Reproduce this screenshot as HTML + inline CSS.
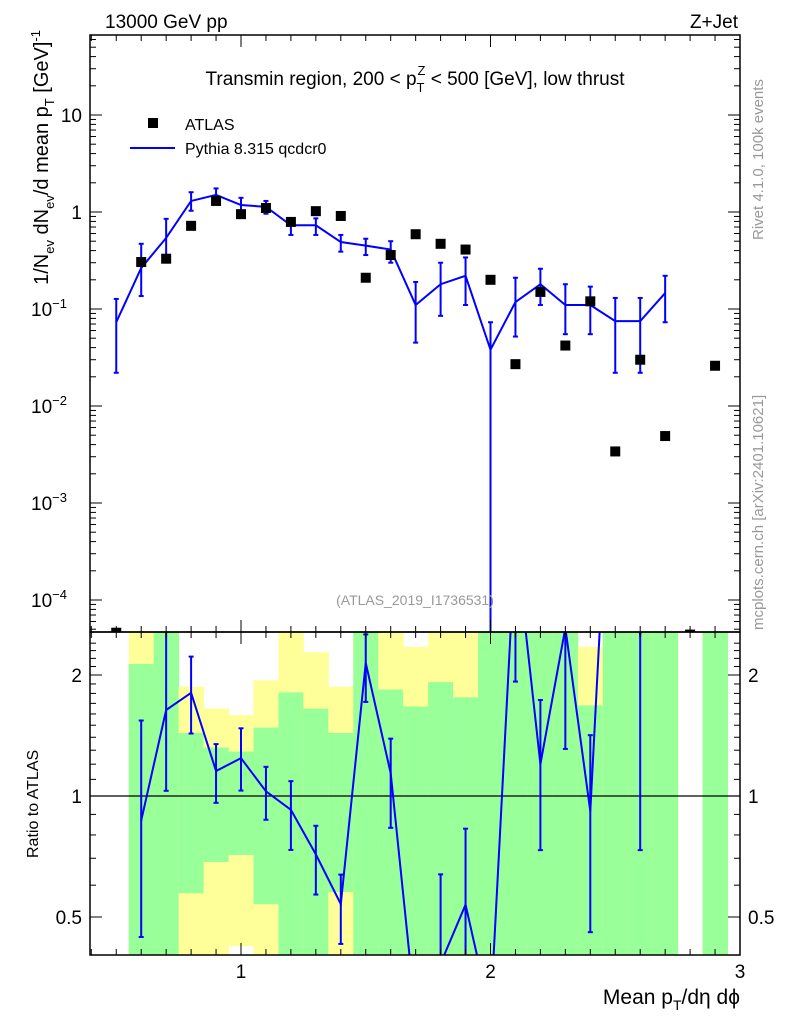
<!DOCTYPE html>
<html><head><meta charset="utf-8"><style>
html,body{margin:0;padding:0;background:#fff;overflow:hidden;width:786px;height:1024px;}
svg{font-family:"Liberation Sans",sans-serif;display:block;overflow:hidden;}
</style></head><body>
<svg id="c" width="786" height="1024" xmlns="http://www.w3.org/2000/svg"></svg>
<script>
const xCenters=[0.5,0.6,0.7,0.8,0.9,1.0,1.1,1.2,1.3,1.4,1.5,1.6,1.7,1.8,1.9,2.0,2.1,2.2,2.3,2.4,2.5,2.6,2.7,2.8,2.9];
const atlasVals=[4.6e-5,0.305,0.33,0.72,1.3,0.95,1.1,0.79,1.02,0.91,0.21,0.36,0.59,0.47,0.41,0.20,0.027,0.15,0.042,0.12,0.0034,0.030,0.0049,4.4e-5,0.026];
const pyVals=[0.073,0.265,0.54,1.3,1.5,1.18,1.13,0.73,0.73,0.49,0.45,0.41,0.11,0.18,0.22,0.038,0.118,0.18,0.11,0.11,0.075,0.075,0.146];
const pyHi=[0.127,0.47,0.85,1.6,1.75,1.4,1.3,0.86,0.86,0.58,0.53,0.5,0.19,0.30,0.34,0.073,0.21,0.26,0.18,0.17,0.13,0.13,0.22];
const pyLo=[0.022,0.136,0.34,1.03,1.25,0.98,0.96,0.58,0.58,0.39,0.36,0.30,0.045,0.085,0.11,1e-6,0.052,0.11,0.055,0.055,0.022,0.022,0.073];
const greenHi=[null,2.13,3,1.435,1.32,1.29,1.48,1.81,1.65,1.435,3,1.84,1.67,1.92,1.76,3,3,3,3,1.68,3,3,3,null,3];
const greenLo=[null,0.3,0.3,0.573,0.685,0.713,0.538,0.3,0.3,0.577,0.3,0.3,0.3,0.3,0.3,0.3,0.3,0.3,0.3,0.3,0.3,0.3,0.3,null,0.3];
const yellowHi=[null,3,3,1.87,1.65,1.59,1.94,3,2.28,1.87,3,3,2.35,3,3,3,3,3,3,2.35,3,3,3,null,3];
const yellowLo=[null,0.3,0.3,0.3,0.3,0.423,0.3,0.3,0.3,0.3,0.3,0.3,0.3,0.3,0.3,0.3,0.3,0.3,0.3,0.3,0.3,0.3,0.3,null,0.3];
const mainTicks=[10,1,0.1,0.01,0.001,0.0001];
const ratioTicks=[2,1,0.5];
const xTicks=[1,2,3];

const NS="http://www.w3.org/2000/svg";
const svg=document.getElementById('c');
const L=90,R=740,MT=35,MB=632,RB=955;
const clamp=(v,a,b)=>Math.max(a,Math.min(b,v));
const X=v=>241+(v-1)*249.5;
const Y=v=>clamp(212-Math.log10(v)*97,MT-30,MB+300);
const RY=v=>clamp(796-Math.log2(v)*121,MB-300,RB+60);
function el(t,a,p){const e=document.createElementNS(NS,t);for(const k in a)e.setAttribute(k,a[k]);(p||svg).appendChild(e);return e;}
const defs=el('defs',{});
const c1=el('clipPath',{id:'cm'},defs);el('rect',{x:L,y:MT,width:R-L,height:MB-MT},c1);
const c2=el('clipPath',{id:'cr'},defs);el('rect',{x:L,y:MB,width:R-L,height:RB-MB},c2);

const gB=el('g',{'clip-path':'url(#cr)'});


xCenters.forEach((x,i)=>{
  if(yellowHi[i]==null)return;
  const x0=X(x-0.05),x1=X(x+0.05);
  const y1=el('rect',{x:x0,y:RY(yellowHi[i]),width:x1-x0+0.5,height:RY(yellowLo[i])-RY(yellowHi[i]),fill:'#ffff99'},gB);
  
  
  const g1=el('rect',{x:x0,y:RY(greenHi[i]),width:x1-x0+0.5,height:RY(greenLo[i])-RY(greenHi[i]),fill:'#99ff99'},gB);
  
  
});
el('line',{x1:L,x2:R,y1:RY(1),y2:RY(1),stroke:'#000','stroke-width':1.2});

const gM=el('g',{'clip-path':'url(#cm)'});
let pts=pyVals.map((v,i)=>X(xCenters[i])+','+Y(v)).join(' ');
const pl=el('polyline',{points:pts,fill:'none',stroke:'#0000ff','stroke-width':2},gM);


pyVals.forEach((v,i)=>{
  const x=X(xCenters[i]);
  const e=el('line',{x1:x,x2:x,y1:Y(pyHi[i]),y2:Y(pyLo[i]),stroke:'#0000ff','stroke-width':2},gM);
  
  
  [pyHi[i],pyLo[i]].forEach(w=>el('line',{x1:x-2.5,x2:x+2.5,y1:Y(w),y2:Y(w),stroke:'#0000ff','stroke-width':2},gM));
});
atlasVals.forEach((v,i)=>{
  const r=el('rect',{x:X(xCenters[i])-5,y:Y(v)-5,width:10,height:10,fill:'#000'},gM);
  
  
});

const gR=el('g',{'clip-path':'url(#cr)'});
let rp=[];
pyVals.forEach((v,i)=>{
  if(atlasVals[i]<1e-4)return;
  const x=X(xCenters[i]),a=atlasVals[i];
  rp.push(x+','+RY(v/a));
  el('line',{x1:x,x2:x,y1:RY(pyHi[i]/a),y2:RY(Math.max(pyLo[i],1e-9)/a),stroke:'#0000ff','stroke-width':2},gR);
  [pyHi[i]/a,pyLo[i]/a].forEach(w=>{if(w>0.01)el('line',{x1:x-2.5,x2:x+2.5,y1:RY(w),y2:RY(w),stroke:'#0000ff','stroke-width':2},gR);});
});
const rl=el('polyline',{points:rp.join(' '),fill:'none',stroke:'#0000ff','stroke-width':2},gR);



el('rect',{x:L,y:MT,width:R-L,height:MB-MT,fill:'none',stroke:'#000','stroke-width':1.5});
el('rect',{x:L,y:MB,width:R-L,height:RB-MB,fill:'none',stroke:'#000','stroke-width':1.5});

for(let d=-5;d<=1;d++){for(let m=1;m<10;m++){const v=m*Math.pow(10,d);const y=212-Math.log10(v)*97;if(y<MT||y>MB)continue;const len=m==1?12:6;
 el('line',{x1:L,x2:L+len,y1:y,y2:y,stroke:'#000'});el('line',{x1:R,x2:R-len,y1:y,y2:y,stroke:'#000'});}}
const tl=['10','1','10<tspan dy="-8" font-size="13">−1</tspan>','10<tspan dy="-8" font-size="13">−2</tspan>','10<tspan dy="-8" font-size="13">−3</tspan>','10<tspan dy="-8" font-size="13">−4</tspan>'];
mainTicks.forEach((v,i)=>{const t=el('text',{x:i<2?82:67,y:Y(v)+7,'font-size':19,'text-anchor':'end'});t.innerHTML=tl[i];
 });
for(let v=0.4;v<=2.5;v+=0.1){const y=796-Math.log2(v)*121;if(y<MB||y>RB)continue;const maj=[0.5,1,2].some(q=>Math.abs(q-v)<1e-6);const len=maj?12:6;
 el('line',{x1:L,x2:L+len,y1:y,y2:y,stroke:'#000'});el('line',{x1:R,x2:R-len,y1:y,y2:y,stroke:'#000'});}
ratioTicks.forEach(v=>{
 const t=el('text',{x:82,y:RY(v)+7,'font-size':19,'text-anchor':'end'});t.textContent=v;
 
 const t2=el('text',{x:748,y:RY(v)+7,'font-size':19});t2.textContent=v;
 });
for(let k=4;k<=30;k++){const v=k/10;const x=X(v);if(x<L||x>R)continue;const maj=k%10==0;const len=maj?12:6;
 [[MT,1],[MB,-1],[MB,1],[RB,-1]].forEach(([y,s])=>el('line',{x1:x,x2:x,y1:y,y2:y+s*len,stroke:'#000'}));}
xTicks.forEach(v=>{const t=el('text',{x:X(v),y:978,'font-size':19,'text-anchor':'middle'});t.textContent=v;
 });

function txt(html,a,name){const t=el('text',a);t.innerHTML=html;return t;}
txt('13000 GeV pp',{x:105,y:28,'font-size':19},'energy-label');
txt('Z+Jet',{x:738,y:28,'font-size':19,'text-anchor':'end'},'process-label');
txt('Transmin region, 200 &lt; p<tspan dy="7" font-size="13">T</tspan><tspan dy="-17" dx="-7" font-size="13">Z</tspan><tspan dy="10"> &lt; 500 [GeV], low thrust</tspan>',{x:415,y:85,'font-size':19,'text-anchor':'middle'},'plot-title');
el('rect',{x:148,y:118,width:10,height:10,fill:'#000'});
txt('ATLAS',{x:185,y:130,'font-size':16},'legend-atlas');
el('line',{x1:130,x2:175,y1:148,y2:148,stroke:'#0000ff','stroke-width':2});
txt('Pythia 8.315 qcdcr0',{x:185,y:154,'font-size':16},'legend-pythia');
txt('(ATLAS_2019_I1736531)',{x:415,y:605,'font-size':14,fill:'#999','text-anchor':'middle'},'analysis-id');
txt('1/N<tspan dy="6" font-size="13">ev</tspan><tspan dy="-6"> dN</tspan><tspan dy="6" font-size="13">ev</tspan><tspan dy="-6">/d mean p</tspan><tspan dy="6" font-size="13">T</tspan><tspan dy="-6"> [GeV]</tspan><tspan dy="-8" font-size="13">-1</tspan>',{transform:'translate(48,30) rotate(-90)','font-size':20,'text-anchor':'end'},'y-axis-title');
txt('Ratio to ATLAS',{transform:'translate(38,858) rotate(-90)','font-size':16},'ratio-axis-title');
txt('Mean p<tspan dy="6" font-size="14">T</tspan><tspan dy="-6">/dη dϕ</tspan>',{x:740,y:1004,'font-size':21,'text-anchor':'end'},'x-axis-title');
txt('Rivet 4.1.0,  100k events',{transform:'translate(763,240) rotate(-90)','font-size':15,fill:'#999'},'rivet-label');
txt('mcplots.cern.ch [arXiv:2401.10621]',{transform:'translate(763,630) rotate(-90)','font-size':15,fill:'#999'},'mcplots-label');
</script>
</body></html>
